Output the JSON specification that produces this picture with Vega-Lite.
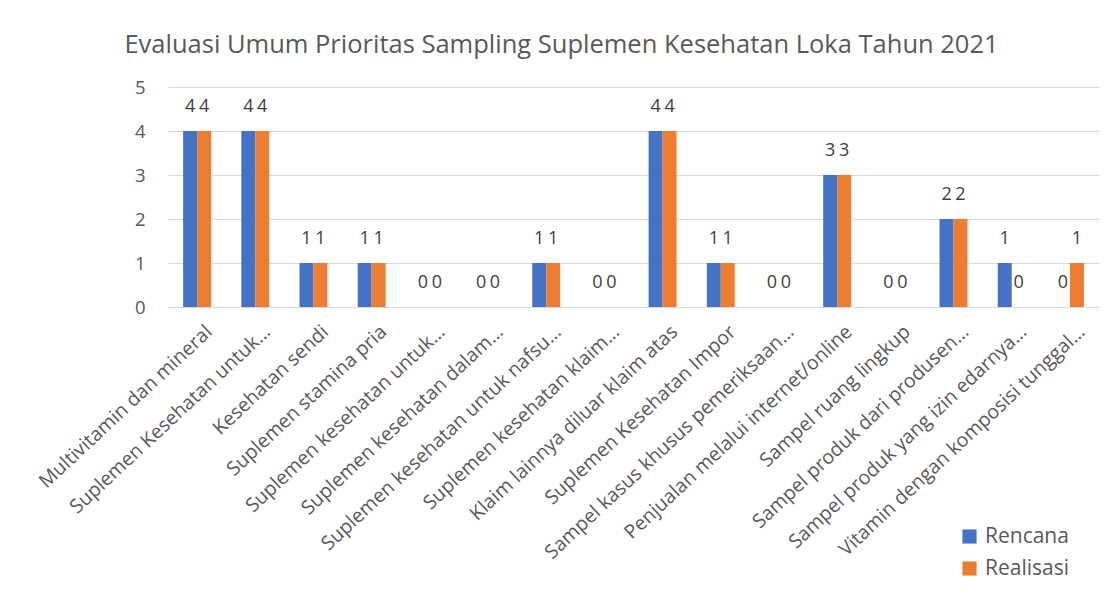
{
  "$schema": "https://vega.github.io/schema/vega-lite/v6.json",
  "width": 931,
  "height": 220,
  "autosize": {"type": "none"},
  "padding": {"left": 168, "top": 87, "right": 20, "bottom": 288},
  "background": "white",
  "title": {
    "text": "Evaluasi Umum Prioritas Sampling Suplemen Kesehatan Loka Tahun 2021",
    "fontSize": 25.5,
    "font": "Open Sans",
    "fontWeight": "normal",
    "color": "#595959",
    "anchor": "middle",
    "dx": -72,
    "offset": 20
  },
  "config": {
    "view": {"stroke": null},
    "font": "Open Sans"
  },
  "data": {
    "values": [
      {"kategori": "Multivitamin dan mineral", "seri": "Rencana", "nilai": 4},
      {"kategori": "Multivitamin dan mineral", "seri": "Realisasi", "nilai": 4},
      {"kategori": "Suplemen Kesehatan untuk…", "seri": "Rencana", "nilai": 4},
      {"kategori": "Suplemen Kesehatan untuk…", "seri": "Realisasi", "nilai": 4},
      {"kategori": "Kesehatan sendi", "seri": "Rencana", "nilai": 1},
      {"kategori": "Kesehatan sendi", "seri": "Realisasi", "nilai": 1},
      {"kategori": "Suplemen stamina pria", "seri": "Rencana", "nilai": 1},
      {"kategori": "Suplemen stamina pria", "seri": "Realisasi", "nilai": 1},
      {"kategori": "Suplemen kesehatan untuk…", "seri": "Rencana", "nilai": 0},
      {"kategori": "Suplemen kesehatan untuk…", "seri": "Realisasi", "nilai": 0},
      {"kategori": "Suplemen kesehatan dalam…", "seri": "Rencana", "nilai": 0},
      {"kategori": "Suplemen kesehatan dalam…", "seri": "Realisasi", "nilai": 0},
      {"kategori": "Suplemen kesehatan untuk nafsu…", "seri": "Rencana", "nilai": 1},
      {"kategori": "Suplemen kesehatan untuk nafsu…", "seri": "Realisasi", "nilai": 1},
      {"kategori": "Suplemen kesehatan klaim…", "seri": "Rencana", "nilai": 0},
      {"kategori": "Suplemen kesehatan klaim…", "seri": "Realisasi", "nilai": 0},
      {"kategori": "Klaim lainnya diluar klaim atas", "seri": "Rencana", "nilai": 4},
      {"kategori": "Klaim lainnya diluar klaim atas", "seri": "Realisasi", "nilai": 4},
      {"kategori": "Suplemen Kesehatan Impor", "seri": "Rencana", "nilai": 1},
      {"kategori": "Suplemen Kesehatan Impor", "seri": "Realisasi", "nilai": 1},
      {"kategori": "Sampel kasus khusus pemeriksaan…", "seri": "Rencana", "nilai": 0},
      {"kategori": "Sampel kasus khusus pemeriksaan…", "seri": "Realisasi", "nilai": 0},
      {"kategori": "Penjualan melalui internet/online", "seri": "Rencana", "nilai": 3},
      {"kategori": "Penjualan melalui internet/online", "seri": "Realisasi", "nilai": 3},
      {"kategori": "Sampel ruang lingkup", "seri": "Rencana", "nilai": 0},
      {"kategori": "Sampel ruang lingkup", "seri": "Realisasi", "nilai": 0},
      {"kategori": "Sampel produk dari produsen…", "seri": "Rencana", "nilai": 2},
      {"kategori": "Sampel produk dari produsen…", "seri": "Realisasi", "nilai": 2},
      {"kategori": "Sampel produk yang izin edarnya…", "seri": "Rencana", "nilai": 1},
      {"kategori": "Sampel produk yang izin edarnya…", "seri": "Realisasi", "nilai": 0},
      {"kategori": "Vitamin dengan komposisi tunggal…", "seri": "Rencana", "nilai": 0},
      {"kategori": "Vitamin dengan komposisi tunggal…", "seri": "Realisasi", "nilai": 1}
    ]
  },
  "encoding": {
    "x": {
      "field": "kategori",
      "type": "nominal",
      "sort": null,
      "title": null,
      "scale": {"paddingInner": 0.52, "paddingOuter": 0.26},
      "axis": {
        "labelAngle": -43,
        "labelFontSize": 19.5,
        "labelColor": "#595959",
        "labelLimit": 500,
        "labelOverlap": false,
        "ticks": false,
        "domain": true,
        "domainColor": "#D9D9D9",
        "labelPadding": 15,
        "labelOffset": 6
      }
    },
    "xOffset": {"field": "seri", "type": "nominal", "sort": ["Rencana", "Realisasi"]},
    "y": {
      "field": "nilai",
      "type": "quantitative",
      "title": null,
      "scale": {"domain": [0, 5], "nice": false},
      "axis": {
        "values": [0, 1, 2, 3, 4, 5],
        "labelFontSize": 18.5,
        "labelColor": "#595959",
        "labelOverlap": false,
        "domain": false,
        "ticks": false,
        "grid": true,
        "gridColor": "#D9D9D9",
        "labelPadding": 23
      }
    }
  },
  "layer": [
    {
      "mark": {"type": "bar"},
      "encoding": {
        "color": {
          "field": "seri",
          "type": "nominal",
          "sort": ["Rencana", "Realisasi"],
          "scale": {"domain": ["Rencana", "Realisasi"], "range": ["#4472C4", "#ED7D31"]},
          "legend": {
            "title": null,
            "orient": "none",
            "legendX": 791,
            "legendY": 439,
            "symbolType": "square",
            "symbolSize": 200,
            "symbolStrokeWidth": 0,
            "labelFontSize": 21,
            "labelColor": "#595959",
            "rowPadding": 10,
            "labelOffset": 5
          }
        }
      }
    },
    {
      "mark": {"type": "text", "dy": -24, "fontSize": 18, "color": "#404040", "baseline": "middle"},
      "encoding": {
        "text": {"field": "nilai", "type": "quantitative"}
      }
    }
  ]
}
